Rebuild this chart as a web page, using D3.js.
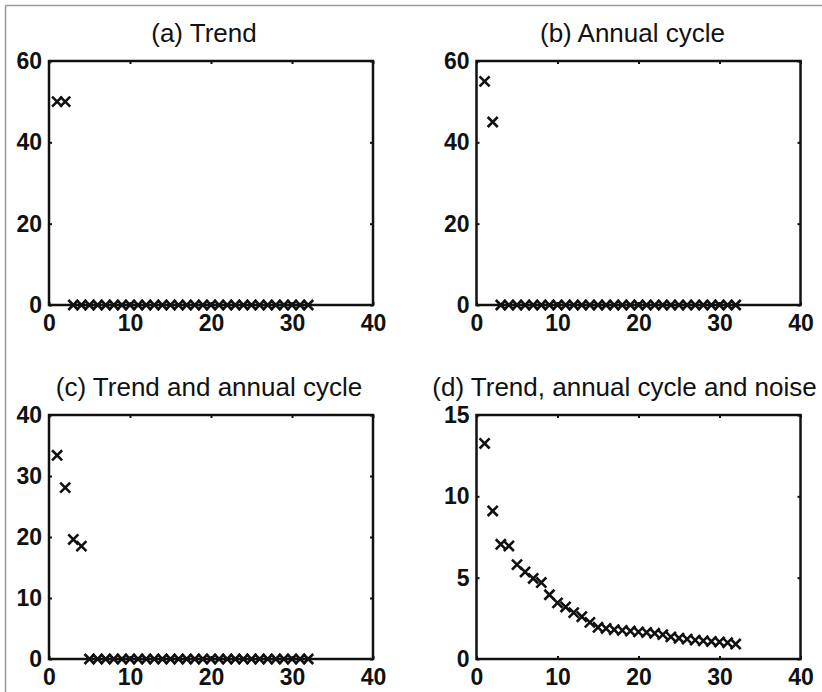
<!DOCTYPE html>
<html>
<head>
<meta charset="utf-8">
<script src="https://cdn.jsdelivr.net/npm/d3@7"></script>
<style>
  body { margin: 0; background: #fff; }
  svg { display: block; font-family: "Liberation Sans", Arial, Helvetica, sans-serif; }
</style>
</head>
<body>
<div id="chart"></div>
<script>
// lags on the x axis
var lags = [1, 2, 3, 4, 5, 6, 7, 8, 9, 10, 11, 12, 13, 14, 15, 16,
            17, 18, 19, 20, 21, 22, 23, 24, 25, 26, 27, 28, 29, 30, 31, 32];

var trendVals = [50, 50, 0, 0, 0, 0, 0, 0, 0, 0, 0, 0, 0, 0, 0, 0,
                 0, 0, 0, 0, 0, 0, 0, 0, 0, 0, 0, 0, 0, 0, 0, 0];
var annualVals = [55, 45, 0, 0, 0, 0, 0, 0, 0, 0, 0, 0, 0, 0, 0, 0,
                  0, 0, 0, 0, 0, 0, 0, 0, 0, 0, 0, 0, 0, 0, 0, 0];
var trendAnnualVals = [33.4, 28.1, 19.6, 18.5, 0, 0, 0, 0, 0, 0, 0, 0, 0, 0, 0, 0,
                       0, 0, 0, 0, 0, 0, 0, 0, 0, 0, 0, 0, 0, 0, 0, 0];
var noiseVals = [13.25, 9.1, 7.05, 6.95, 5.8, 5.35, 4.95, 4.7, 3.95, 3.45, 3.2, 2.85, 2.6, 2.25, 1.95, 1.88,
                 1.8, 1.76, 1.72, 1.67, 1.63, 1.58, 1.5, 1.36, 1.28, 1.22, 1.16, 1.12, 1.08, 1.05, 1.0, 0.92];

var titles = ["(a) Trend", "(b) Annual cycle", "(c) Trend and annual cycle", "(d) Trend, annual cycle and noise"];
var xTicks = [0, 10, 20, 30, 40];
var yTicksA = [0, 20, 40, 60];
var yTicksB = [0, 20, 40, 60];
var yTicksC = [0, 10, 20, 30, 40];
var yTicksD = [0, 5, 10, 15];

var W = 822, H = 692;

var svg = d3.select("#chart").append("svg")
    .attr("width", W)
    .attr("height", H);

// grey frame of the scanned figure
svg.append("line").attr("x1", 5.5).attr("y1", 5.5).attr("x2", W).attr("y2", 5.5)
    .attr("stroke", "#999").attr("stroke-width", 1.5);
svg.append("line").attr("x1", 5.5).attr("y1", 5.5).attr("x2", 5.5).attr("y2", H)
    .attr("stroke", "#999").attr("stroke-width", 1.5);

function panel(left, top, title, vals, yTicks, titleDx) {
    var width = 324, height = 244;
    var x = d3.scaleLinear().domain([0, 40]).range([0, width]);
    var y = d3.scaleLinear().domain([0, d3.max(yTicks)]).range([height, 0]);

    var g = svg.append("g")
        .attr("transform", "translate(" + left + "," + top + ")");

    var fmt = d3.format("d");

    var xAxis = d3.axisBottom(x).tickValues(xTicks).tickFormat(fmt)
        .tickSizeInner(-3).tickSizeOuter(0).tickPadding(10);
    var yAxis = d3.axisLeft(y).tickValues(yTicks).tickFormat(fmt)
        .tickSizeInner(-3).tickSizeOuter(0).tickPadding(7);
    var xTop = d3.axisTop(x).tickValues(xTicks).tickFormat("")
        .tickSizeInner(-3).tickSizeOuter(0);
    var yRight = d3.axisRight(y).tickValues(yTicks).tickFormat("")
        .tickSizeInner(-3).tickSizeOuter(0);

    var ax = [
        g.append("g").attr("transform", "translate(0," + height + ")").call(xAxis),
        g.append("g").call(yAxis),
        g.append("g").call(xTop),
        g.append("g").attr("transform", "translate(" + width + ",0)").call(yRight)
    ];
    ax.forEach(function(a) {
        a.select(".domain").remove();
        a.selectAll("line").attr("stroke", "#111").attr("stroke-width", 2);
        a.selectAll("text")
            .attr("fill", "#111")
            .style("font-size", "23px")
            .style("font-weight", "bold");
    });

    // box
    g.append("rect")
        .attr("x", 0).attr("y", 0)
        .attr("width", width).attr("height", height)
        .attr("fill", "none")
        .attr("stroke", "#111")
        .attr("stroke-width", 2.5);

    // markers
    var sym = d3.symbol().type(d3.symbolTimes).size(68);
    g.append("g")
        .selectAll("path")
        .data(vals)
        .enter().append("path")
        .attr("transform", function(d, i) {
            return "translate(" + x(lags[i]) + "," + y(d) + ")";
        })
        .attr("d", sym)
        .attr("fill", "none")
        .attr("stroke", "#111")
        .attr("stroke-width", 2.6);

    g.append("text")
        .attr("x", width / 2 + titleDx)
        .attr("y", -19)
        .attr("text-anchor", "middle")
        .attr("fill", "#111")
        .style("font-size", "26px")
        .text(title);
}

panel(49, 61, titles[0], trendVals, yTicksA, -7);
panel(476.5, 61, titles[1], annualVals, yTicksB, -6);
panel(49, 415, titles[2], trendAnnualVals, yTicksC, -2);
panel(476.5, 415, titles[3], noiseVals, yTicksD, -14);
</script>
</body>
</html>
